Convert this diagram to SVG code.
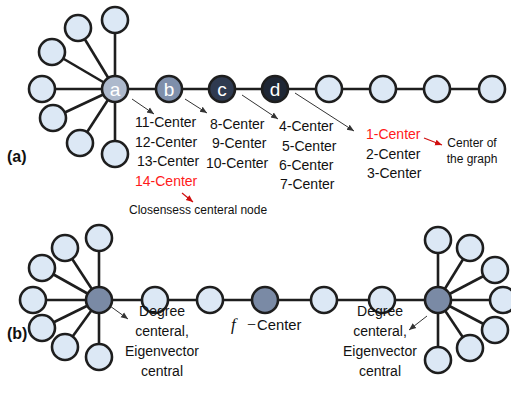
<svg xmlns="http://www.w3.org/2000/svg" width="511" height="393" viewBox="0 0 511 393">
<defs>
<style>
.e{stroke:#1e1e1e;stroke-width:2.6;fill:none}
.n{stroke:#1e1e1e;stroke-width:2.6}
.lt{fill:#dce8f5}
.t{font-family:"Liberation Sans",Arial,sans-serif;font-size:14px;fill:#111}
.s{font-family:"Liberation Sans",Arial,sans-serif;font-size:12px;fill:#111}
.red{fill:#ff1a1a}
.lab{font-family:"Liberation Sans",Arial,sans-serif;font-size:19px;fill:#fff;text-anchor:middle}
.p{font-family:"Liberation Sans",Arial,sans-serif;font-size:16px;font-weight:bold;fill:#111}
.m{font-family:"Liberation Serif","Times New Roman",serif;fill:#111}
.ar{stroke:#333;stroke-width:1;fill:none;marker-end:url(#ah)}
.ar2{stroke:#d01010;stroke-width:1.2;fill:none;marker-end:url(#ahr)}
</style>
<marker id="ah" markerWidth="8" markerHeight="8" refX="7" refY="4" orient="auto" markerUnits="userSpaceOnUse">
<path d="M0,1 L7,4 L0,7 z" fill="#333"/>
</marker>
<marker id="ahr" markerWidth="8" markerHeight="8" refX="7" refY="4" orient="auto" markerUnits="userSpaceOnUse">
<path d="M0,1 L7,4 L0,7 z" fill="#d01010"/>
</marker>
</defs>
<rect width="511" height="393" fill="#fff"/>
<g id="connectors">
<line class="e" x1="115" y1="89" x2="115" y2="20"/>
<line class="e" x1="115" y1="89" x2="78" y2="28"/>
<line class="e" x1="115" y1="89" x2="52" y2="52"/>
<line class="e" x1="115" y1="89" x2="42" y2="89"/>
<line class="e" x1="115" y1="89" x2="53" y2="118"/>
<line class="e" x1="115" y1="89" x2="80" y2="143"/>
<line class="e" x1="115" y1="89" x2="115" y2="154"/>
<line class="e" x1="115" y1="89" x2="492" y2="89"/>
<line class="e" x1="99" y1="300" x2="99" y2="238"/>
<line class="e" x1="99" y1="300" x2="65" y2="248"/>
<line class="e" x1="99" y1="300" x2="42" y2="268"/>
<line class="e" x1="99" y1="300" x2="33" y2="300"/>
<line class="e" x1="99" y1="300" x2="42" y2="328"/>
<line class="e" x1="99" y1="300" x2="65" y2="347"/>
<line class="e" x1="99" y1="300" x2="99" y2="357"/>
<line class="e" x1="99" y1="300" x2="438" y2="300"/>
<line class="e" x1="438" y1="300" x2="438" y2="240"/>
<line class="e" x1="438" y1="300" x2="470" y2="248"/>
<line class="e" x1="438" y1="300" x2="495" y2="270"/>
<line class="e" x1="438" y1="300" x2="503" y2="300"/>
<line class="e" x1="438" y1="300" x2="495" y2="330"/>
<line class="e" x1="438" y1="300" x2="470" y2="348"/>
<line class="e" x1="438" y1="300" x2="438" y2="360"/>
<line class="ar" x1="132" y1="99" x2="154" y2="114"/>
<line class="ar" x1="185" y1="99" x2="207" y2="113"/>
<line class="ar" x1="242" y1="95" x2="278" y2="119"/>
<line class="ar" x1="295" y1="93" x2="354" y2="131"/>
<line class="ar2" x1="182" y1="193" x2="193" y2="202"/>
<line class="ar2" x1="424" y1="138" x2="442" y2="145"/>
<line class="ar" x1="110" y1="306" x2="128" y2="319"/>
<line class="ar" x1="427" y1="316" x2="409" y2="330"/>
</g>
<g id="leaves-a">
<circle class="n lt" cx="115" cy="20" r="13"/>
<circle class="n lt" cx="78" cy="28" r="13"/>
<circle class="n lt" cx="52" cy="52" r="13"/>
<circle class="n lt" cx="42" cy="89" r="13"/>
<circle class="n lt" cx="53" cy="118" r="13"/>
<circle class="n lt" cx="80" cy="143" r="13"/>
<circle class="n lt" cx="115" cy="154" r="13"/>
</g>
<g id="node-a"><circle class="n" cx="115" cy="89" r="13" fill="#adb9cc"/><text class="lab" x="115" y="96">a</text></g>
<g id="node-b"><circle class="n" cx="169" cy="89" r="13" fill="#7e8fab"/><text class="lab" x="169" y="96">b</text></g>
<g id="node-c"><circle class="n" cx="222" cy="89" r="13" fill="#2f3a50"/><text class="lab" x="222" y="96">c</text></g>
<g id="node-d"><circle class="n" cx="275" cy="89" r="13" fill="#1f2735"/><text class="lab" x="275" y="96">d</text></g>
<g id="chain-a">
<circle class="n lt" cx="329" cy="89" r="13"/>
<circle class="n lt" cx="383" cy="89" r="13"/>
<circle class="n lt" cx="437" cy="89" r="13"/>
<circle class="n lt" cx="492" cy="89" r="13"/>
</g>
<g id="labels-a">
<text class="p" x="7" y="162">(a)</text>
<text class="t" x="135" y="127">11-Center</text>
<text class="t" x="135" y="147">12-Center</text>
<text class="t" x="137" y="166">13-Center</text>
<text class="t red" x="135" y="186">14-Center</text>
<text class="s" x="129" y="214" font-size="12.6">Closensess centeral node</text>
<text class="t" x="210" y="129">8-Center</text>
<text class="t" x="212" y="148">9-Center</text>
<text class="t" x="206" y="168">10-Center</text>
<text class="t" x="279" y="131">4-Center</text>
<text class="t" x="282" y="151">5-Center</text>
<text class="t" x="279" y="170">6-Center</text>
<text class="t" x="280" y="189">7-Center</text>
<text class="t red" x="366" y="139">1-Center</text>
<text class="t" x="366" y="159">2-Center</text>
<text class="t" x="367" y="178">3-Center</text>
<text class="s" x="472" y="147" text-anchor="middle">Center of</text>
<text class="s" x="472" y="163" text-anchor="middle">the graph</text>
</g>
<g id="leaves-b-left">
<circle class="n lt" cx="99" cy="238" r="13"/>
<circle class="n lt" cx="65" cy="248" r="13"/>
<circle class="n lt" cx="42" cy="268" r="13"/>
<circle class="n lt" cx="33" cy="300" r="13"/>
<circle class="n lt" cx="42" cy="328" r="13"/>
<circle class="n lt" cx="65" cy="347" r="13"/>
<circle class="n lt" cx="99" cy="357" r="13"/>
</g>
<g id="hub-left"><circle class="n" cx="99" cy="300" r="13" fill="#7a8aa5"/></g>
<g id="chain-b">
<circle class="n lt" cx="155" cy="300" r="13"/>
<circle class="n lt" cx="210" cy="300" r="13"/>
<circle class="n lt" cx="324" cy="300" r="13"/>
<circle class="n lt" cx="382" cy="300" r="13"/>
</g>
<g id="hub-f"><circle class="n" cx="265" cy="300" r="13" fill="#7a8aa5"/></g>
<g id="leaves-b-right">
<circle class="n lt" cx="438" cy="240" r="13"/>
<circle class="n lt" cx="470" cy="248" r="13"/>
<circle class="n lt" cx="495" cy="270" r="13"/>
<circle class="n lt" cx="503" cy="300" r="13"/>
<circle class="n lt" cx="495" cy="330" r="13"/>
<circle class="n lt" cx="470" cy="348" r="13"/>
<circle class="n lt" cx="438" cy="360" r="13"/>
</g>
<g id="hub-right"><circle class="n" cx="438" cy="300" r="13" fill="#7a8aa5"/></g>
<g id="labels-b">
<text class="p" x="7" y="339">(b)</text>
<text class="t" x="162" y="316" text-anchor="middle">Degree</text>
<text class="t" x="162" y="336" text-anchor="middle">centeral,</text>
<text class="t" x="162" y="356" text-anchor="middle">Eigenvector</text>
<text class="t" x="162" y="376" text-anchor="middle">central</text>
<text class="t" x="231" y="330"><tspan class="m" font-style="italic" font-size="17">f</tspan><tspan class="m" x="247" font-size="16">−</tspan><tspan x="257" font-size="14.8">Center</tspan></text>
<text class="t" x="380" y="316" text-anchor="middle">Degree</text>
<text class="t" x="380" y="336" text-anchor="middle">centeral,</text>
<text class="t" x="380" y="356" text-anchor="middle">Eigenvector</text>
<text class="t" x="380" y="376" text-anchor="middle">central</text>
</g>
</svg>
